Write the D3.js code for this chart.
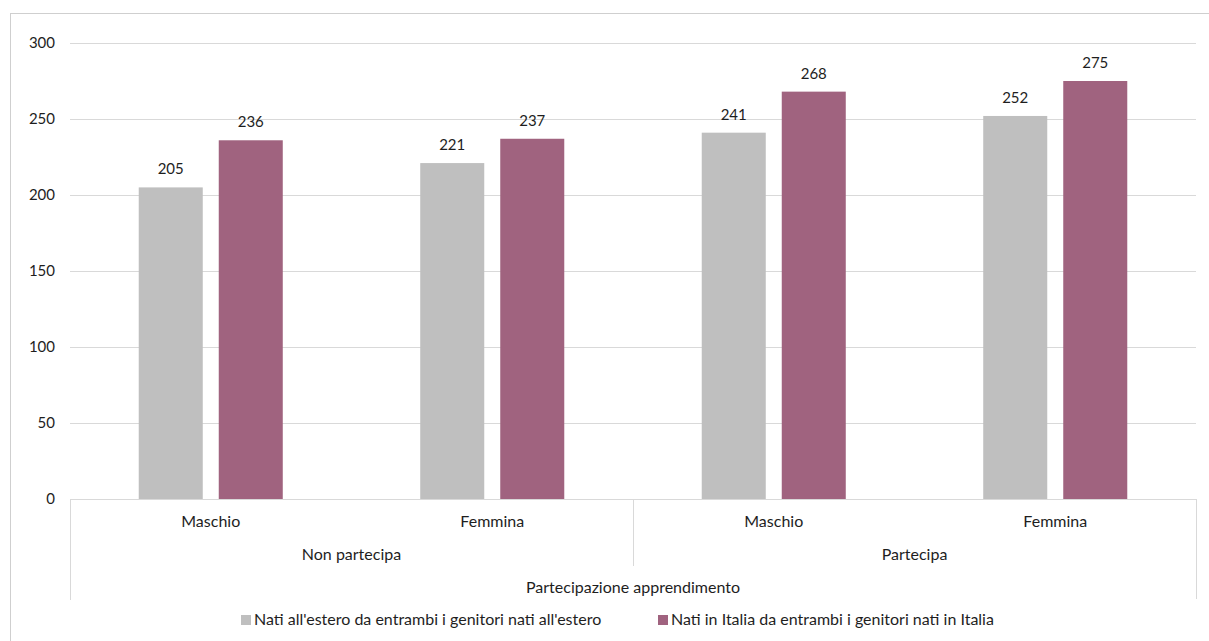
<!DOCTYPE html>
<html><head><meta charset="utf-8">
<script src="https://cdn.jsdelivr.net/npm/d3@7"></script>
<style>body{margin:0;background:#fff;} text{font-family:Lato, "Open Sans", sans-serif;}</style>
</head><body>
<svg id="c" width="1209" height="641"></svg>
<script>
const groups = ["Non partecipa", "Partecipa"];
const categories = ["Maschio", "Femmina", "Maschio", "Femmina"];
const categoryGroup = ["Non partecipa", "Non partecipa", "Partecipa", "Partecipa"];
const seriesNames = ["Nati all'estero da entrambi i genitori nati all'estero", "Nati in Italia da entrambi i genitori nati in Italia"];
const seriesEstero = [205, 221, 241, 252];
const seriesItalia = [236, 237, 268, 275];
const yTicks = [0, 50, 100, 150, 200, 250, 300];
const axisTitle = "Partecipazione apprendimento";
const colors = ["#bfbfbf", "#a0637f"];

const svg = d3.select("#c");
const L = 70, R = 1196, T = 43, B = 499;
const textCol = "#1e1e1e", lineCol = "#d9d9d9";
const fsText = 16, fsNum = 15;

svg.append("rect").attr("x", 10.5).attr("y", 13.5).attr("width", 1400).attr("height", 800)
  .attr("fill", "none").attr("stroke", "#cfcfcf");

const y = d3.scaleLinear().domain([0, 300]).range([B, T]);
const idx = d3.range(categories.length);
const x0 = d3.scaleBand().domain(idx).range([L, R]).padding(0);
const x1 = d3.scaleBand().domain([0, 1]).range([0, x0.bandwidth()]).paddingInner(0.2).paddingOuter(0.859);
const xg = d3.scaleBand().domain(groups).range([L, R]).padding(0);

// gridlines
svg.append("g").selectAll("line").data(yTicks.filter(d => d > 0)).join("line")
  .attr("x1", L).attr("x2", R).attr("y1", d => Math.round(y(d)) + 0.5).attr("y2", d => Math.round(y(d)) + 0.5)
  .attr("stroke", lineCol).attr("stroke-width", 1);

// y axis labels
const yAxis = d3.axisLeft(y).tickValues(yTicks).tickSize(0).tickPadding(15);
const ga = svg.append("g").attr("transform", `translate(${L},0)`).call(yAxis);
ga.select(".domain").remove();
ga.selectAll("text").attr("font-size", fsNum).attr("fill", textCol).style("font-family", "Lato, sans-serif");

// bars
const series = [seriesEstero, seriesItalia];
series.forEach((vals, s) => {
  const g = svg.append("g");
  g.selectAll("rect").data(idx).join("rect")
    .attr("x", i => x0(i) + x1(s)).attr("width", x1.bandwidth())
    .attr("y", i => y(vals[i])).attr("height", i => y(0) - y(vals[i]))
    .attr("fill", colors[s]);
  g.selectAll("text").data(idx).join("text")
    .attr("x", i => x0(i) + x1(s) + x1.bandwidth() / 2)
    .attr("y", i => y(vals[i]) - 13)
    .attr("text-anchor", "middle").attr("font-size", fsNum).attr("fill", textCol)
    .text(i => vals[i]);
});

// category axis
svg.append("line").attr("x1", L).attr("x2", R).attr("y1", B + 0.5).attr("y2", B + 0.5).attr("stroke", lineCol);
const vlines = [[L, 600], [xg("Partecipa"), 566], [R, 599]];
svg.selectAll(".vl").data(vlines).join("line").attr("class", "vl")
  .attr("x1", d => d[0] + 0.5).attr("x2", d => d[0] + 0.5).attr("y1", B).attr("y2", d => d[1])
  .attr("stroke", lineCol);

svg.append("g").selectAll("text").data(idx).join("text")
  .attr("x", i => x0(i) + x0.bandwidth() / 2).attr("y", 527)
  .attr("text-anchor", "middle").attr("font-size", fsText).attr("fill", textCol)
  .text(i => categories[i]);
svg.append("g").selectAll("text").data(groups).join("text")
  .attr("x", d => xg(d) + xg.bandwidth() / 2).attr("y", 560)
  .attr("text-anchor", "middle").attr("font-size", fsText).attr("fill", textCol)
  .text(d => d);
svg.append("text").attr("x", (L + R) / 2).attr("y", 593).attr("text-anchor", "middle")
  .attr("font-size", fsText).attr("fill", textCol).text(axisTitle);

// legend
const legX = [241, 658];
seriesNames.forEach((n, s) => {
  svg.append("rect").attr("x", legX[s]).attr("y", 615).attr("width", 10).attr("height", 10).attr("fill", colors[s]);
  svg.append("text").attr("x", legX[s] + 13).attr("y", 625).attr("font-size", fsText).attr("fill", textCol).text(n);
});
</script>
</body></html>
